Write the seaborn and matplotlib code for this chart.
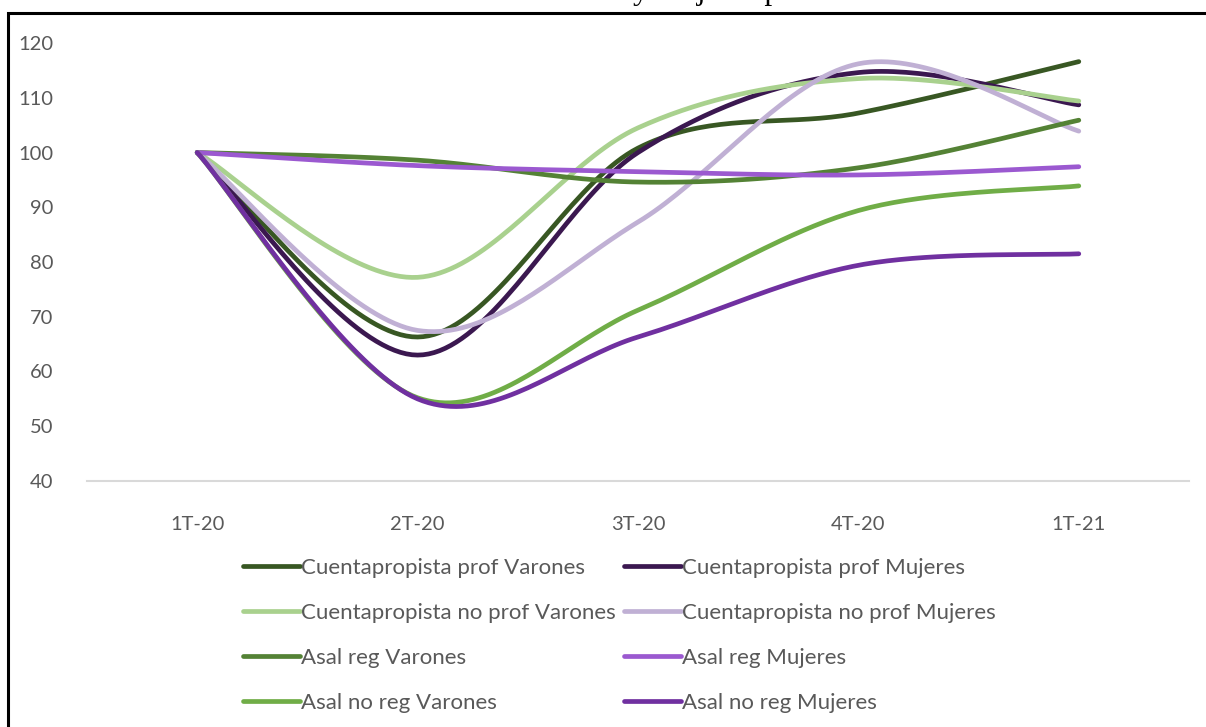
import numpy as np
import pandas as pd
import matplotlib
matplotlib.use("Agg")
import matplotlib.pyplot as plt
from matplotlib.patches import Rectangle
from matplotlib.lines import Line2D
import seaborn as sns

# Quarters on the horizontal axis
quarters = ["1T-20", "2T-20", "3T-20", "4T-20", "1T-21"]

# Employment index (1T-20 = 100) by occupational category and sex
cp_prof_varones = [100, 66.3, 100.8, 107.2, 116.6]
cp_prof_mujeres = [100, 63.0, 100.0, 114.6, 108.7]
cp_noprof_varones = [100, 77.2, 104.5, 113.5, 109.4]
cp_noprof_mujeres = [100, 67.5, 87.3, 116.2, 103.9]
asal_reg_varones = [100, 98.6, 94.6, 97.2, 105.9]
asal_reg_mujeres = [100, 97.6, 96.5, 95.9, 97.4]
asal_noreg_varones = [100, 55.2, 71.2, 89.4, 93.9]
asal_noreg_mujeres = [100, 55.0, 66.3, 79.4, 81.5]

series_names = [
    "Cuentapropista prof Varones",
    "Cuentapropista prof Mujeres",
    "Cuentapropista no prof Varones",
    "Cuentapropista no prof Mujeres",
    "Asal reg Varones",
    "Asal reg Mujeres",
    "Asal no reg Varones",
    "Asal no reg Mujeres",
]
series_values = [
    cp_prof_varones, cp_prof_mujeres,
    cp_noprof_varones, cp_noprof_mujeres,
    asal_reg_varones, asal_reg_mujeres,
    asal_noreg_varones, asal_noreg_mujeres,
]
series_colors = [
    "#385723", "#3b1850",
    "#a9d18e", "#c0b0d4",
    "#548235", "#9b59d0",
    "#70ad47", "#7030a0",
]


def smooth(xs, ys, n=40):
    """Catmull-Rom style cubic Bezier through every point (spreadsheet 'smoothed line')."""
    xs = np.asarray(xs, float)
    ys = np.asarray(ys, float)
    px = np.concatenate([[xs[0]], xs, [xs[-1]]])
    py = np.concatenate([[ys[0]], ys, [ys[-1]]])
    out_x, out_y = [], []
    t = np.linspace(0, 1, n, endpoint=False)
    for i in range(1, len(px) - 2):
        p0 = np.array([px[i], py[i]])
        p3 = np.array([px[i + 1], py[i + 1]])
        c1 = p0 + (np.array([px[i + 1], py[i + 1]]) - np.array([px[i - 1], py[i - 1]])) / 6
        c2 = p3 - (np.array([px[i + 2], py[i + 2]]) - np.array([px[i], py[i]])) / 6
        b = ((1 - t) ** 3)[:, None] * p0 + (3 * (1 - t) ** 2 * t)[:, None] * c1 \
            + (3 * (1 - t) * t ** 2)[:, None] * c2 + (t ** 3)[:, None] * p3
        out_x.extend(b[:, 0])
        out_y.extend(b[:, 1])
    out_x.append(xs[-1])
    out_y.append(ys[-1])
    return np.array(out_x), np.array(out_y)


xpos = np.arange(len(quarters))
frames = []
for name, vals in zip(series_names, series_values):
    sx, sy = smooth(xpos, vals)
    frames.append(pd.DataFrame({"x": sx, "y": sy, "serie": name}))
df = pd.concat(frames, ignore_index=True)

sns.set_theme(style="white")
plt.rcParams["font.family"] = ["Lato", "DejaVu Sans"]

W, H = 1206, 727
fig = plt.figure(figsize=(W / 100, H / 100), dpi=100)
ax = fig.add_axes([87 / W, 1 - 481 / H, 1102 / W, 438 / H])

sns.lineplot(
    data=df, x="x", y="y", hue="serie", hue_order=series_names,
    palette=dict(zip(series_names, series_colors)),
    units="serie", estimator=None, sort=False,
    linewidth=3.4, ax=ax, legend=False,
)
for line in ax.get_lines():
    line.set_solid_capstyle("round")

ax.set_xlim(-0.5, len(quarters) - 0.5)
ax.set_ylim(40, 120)
ax.set_yticks(np.arange(40, 121, 10))
ax.set_xticks(xpos)
ax.set_xticklabels(quarters)
ax.set_xlabel("")
ax.set_ylabel("")
ax.tick_params(axis="both", length=0, labelsize=14.5, colors="#595959")
ax.tick_params(axis="y", pad=24)
ax.tick_params(axis="x", pad=25)
for side in ["left", "right", "top"]:
    ax.spines[side].set_visible(False)
ax.spines["bottom"].set_color("#d9d9d9")
ax.spines["bottom"].set_linewidth(1.5)
ax.grid(False)

# Legend: Varones in the first column, Mujeres in the second
handles = [Line2D([0], [0], color=c, lw=3.4, solid_capstyle="round") for c in series_colors]
order = [0, 2, 4, 6, 1, 3, 5, 7]
fig.legend(
    [handles[i] for i in order], [series_names[i] for i in order],
    ncol=2, loc="upper left", bbox_to_anchor=(243 / W, 1 - 558 / H),
    frameon=False, fontsize=16, labelcolor="#595959",
    handlelength=2.55, handletextpad=0.08, columnspacing=0.35,
    labelspacing=1.12, borderpad=0, borderaxespad=0,
)

# Outer frame of the chart box
fig.patches.append(Rectangle((8 / W, -0.1), 1.2, 1 - 13 / H + 0.1,
                             transform=fig.transFigure, fill=False,
                             edgecolor="black", linewidth=2.2, clip_on=False))

# Title sitting above the box (mostly outside the canvas)
fig.text(352 / W, 1 + 1.5 / H, "Evolución de varones y mujeres por inserción laboral",
         family=["Liberation Serif", "DejaVu Serif"], fontsize=22.7,
         ha="left", va="baseline", color="black")

fig.savefig("out.png", dpi=100)
